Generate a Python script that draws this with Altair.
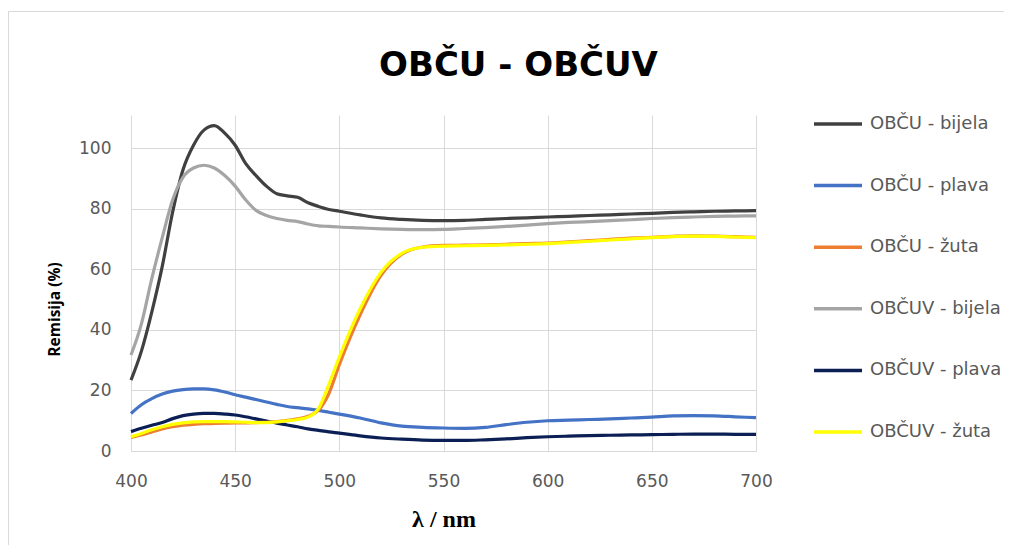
import altair as alt
import pandas as pd

wavelengths = [400, 405, 410, 415, 420, 425, 430, 435, 440, 445, 450, 455, 460, 465, 470,
               475, 480, 485, 490, 495, 500, 510, 520, 530, 540, 550, 560, 570, 580, 590,
               600, 610, 620, 630, 640, 650, 660, 670, 680, 690, 700]

obcu_bijela = [23.4, 33.0, 46.0, 61.0, 79.0, 93.0, 101.0, 106.0, 107.5, 105.0, 101.0, 95.0,
               91.0, 87.5, 85.0, 84.3, 83.8, 82.0, 80.8, 79.8, 79.2, 78.0, 77.0, 76.5, 76.2,
               76.1, 76.2, 76.5, 76.8, 77.0, 77.3, 77.5, 77.8, 78.0, 78.3, 78.5, 78.8, 79.0,
               79.2, 79.3, 79.4]
obcu_plava = [12.4, 15.3, 17.3, 18.8, 19.8, 20.3, 20.5, 20.5, 20.2, 19.5, 18.6, 17.8, 17.0,
              16.2, 15.4, 14.7, 14.3, 13.9, 13.4, 12.8, 12.2, 10.9, 9.3, 8.2, 7.8, 7.6, 7.5,
              7.8, 8.7, 9.5, 10.0, 10.2, 10.4, 10.6, 10.9, 11.2, 11.6, 11.7, 11.6, 11.3, 11.0]
obcu_zuta = [4.5, 5.3, 6.3, 7.3, 8.0, 8.5, 8.8, 9.0, 9.1, 9.2, 9.3, 9.3, 9.4, 9.5, 9.7, 10.1,
             10.6, 11.5, 13.5, 19.0, 28.5, 45.0, 58.0, 65.0, 67.4, 67.9, 68.0, 68.1, 68.3,
             68.5, 68.7, 69.1, 69.5, 69.9, 70.3, 70.6, 70.9, 71.1, 71.0, 70.8, 70.6]
obcuv_bijela = [31.7, 42.0, 57.0, 70.5, 83.0, 90.5, 93.5, 94.4, 93.5, 91.0, 87.5, 83.0, 79.5,
                77.8, 76.8, 76.2, 75.8, 75.0, 74.4, 74.2, 74.0, 73.7, 73.4, 73.2, 73.1, 73.2,
                73.5, 73.8, 74.2, 74.6, 75.1, 75.5, 75.8, 76.1, 76.4, 76.8, 77.1, 77.3, 77.5,
                77.6, 77.7]
obcuv_plava = [6.4, 7.5, 8.5, 9.4, 10.7, 11.7, 12.2, 12.4, 12.4, 12.2, 11.9, 11.3, 10.6, 9.9,
               9.2, 8.6, 8.0, 7.3, 6.8, 6.3, 5.9, 5.0, 4.3, 3.9, 3.6, 3.5, 3.5, 3.7, 4.0, 4.4,
               4.7, 4.9, 5.1, 5.2, 5.3, 5.4, 5.5, 5.6, 5.6, 5.5, 5.5]
obcuv_zuta = [4.7, 5.8, 7.0, 8.0, 8.8, 9.3, 9.6, 9.7, 9.7, 9.7, 9.6, 9.5, 9.4, 9.4, 9.6, 10.0,
              10.4, 11.2, 14.0, 22.0, 31.0, 47.0, 59.0, 65.3, 67.3, 67.7, 67.8, 67.9, 68.1,
              68.3, 68.5, 68.9, 69.3, 69.7, 70.1, 70.5, 70.8, 71.0, 70.9, 70.7, 70.5]

series_names = ["OBČU - bijela", "OBČU - plava", "OBČU - žuta",
                "OBČUV - bijela", "OBČUV - plava", "OBČUV - žuta"]
series_values = [obcu_bijela, obcu_plava, obcu_zuta, obcuv_bijela, obcuv_plava, obcuv_zuta]
series_colors = ["#404040", "#4472C4", "#ED7D31", "#A5A5A5", "#0B1F55", "#FFFF00"]
draw_order = [1, 4, 0, 3, 2, 5]

rows = []
for rank, idx in enumerate(draw_order):
    for w, v in zip(wavelengths, series_values[idx]):
        rows.append({"lambda": w, "value": v, "serie": series_names[idx], "rank": rank})
df = pd.DataFrame(rows)

lines = alt.Chart(df).mark_line(interpolate="monotone", strokeWidth=3.2).encode(
    x=alt.X("lambda:Q",
            scale=alt.Scale(domain=[400, 700], nice=False, zero=False),
            axis=alt.Axis(values=[400, 450, 500, 550, 600, 650, 700], title="λ / nm",
                          titleFont="Liberation Serif", titleFontSize=24, titleFontWeight="bold",
                          titleColor="#000000", titlePadding=18, labelPadding=22,
                          labelFlush=False, labelFontSize=17)),
    y=alt.Y("value:Q",
            scale=alt.Scale(domain=[0, 111], nice=False),
            axis=alt.Axis(values=[0, 20, 40, 60, 80, 100], title="Remisija (%)",
                          titleFont="Open Sans", titleFontSize=15.5, titleFontWeight="bold",
                          titleColor="#000000", titlePadding=16, titleY=194, labelPadding=20,
                          labelFontSize=17)),
    color=alt.Color("serie:N",
                    scale=alt.Scale(domain=series_names, range=series_colors),
                    legend=alt.Legend(title=None, orient="none", legendX=681, legendY=-17,
                                      symbolType="stroke", symbolSize=2304,
                                      symbolStrokeWidth=3.5, rowPadding=26.6,
                                      labelFont="DejaVu Sans", labelFontSize=18,
                                      labelColor="#595959", labelOffset=6, padding=0)),
    detail="rank:O",
    order="rank:O",
)

frame = pd.DataFrame({"k": [0]})
border_top = alt.Chart(frame).mark_rule(color="#D9D9D9", strokeWidth=1).encode(
    x=alt.value(-122.5), x2=alt.value(873), y=alt.value(-103.5)
)
border_left = alt.Chart(frame).mark_rule(color="#D9D9D9", strokeWidth=1).encode(
    x=alt.value(-122.5), y=alt.value(-103.5), y2=alt.value(430)
)

chart = alt.layer(border_top, border_left, lines).properties(
    width=625,
    height=336,
    background="#FFFFFF",
    title=alt.TitleParams("OBČU - OBČUV", font="DejaVu Sans", fontSize=34, fontWeight="bold",
                          color="#000000", offset=-72, dx=75),
    autosize=alt.AutoSizeParams(type="none"),
    padding={"left": 123, "top": 107, "right": 248, "bottom": 94},
).configure_view(stroke=None).configure_axis(
    grid=True, gridColor="#D9D9D9", gridWidth=1, domain=False, ticks=False,
    labelFont="DejaVu Sans", labelFontSize=17, labelColor="#595959",
)

chart.save("out.html", embed_options={"renderer": "svg", "actions": False})
